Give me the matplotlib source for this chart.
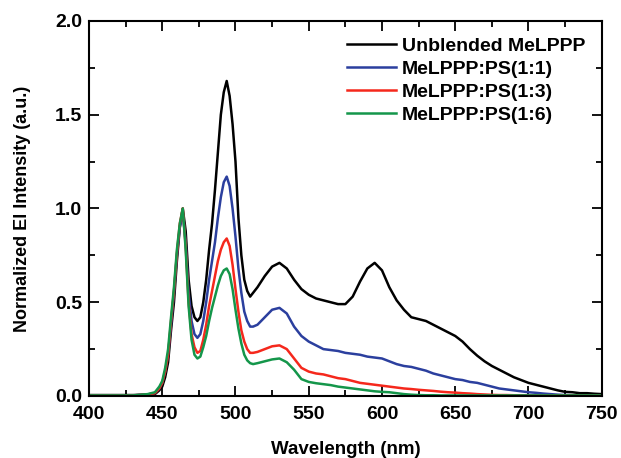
import matplotlib
matplotlib.use('agg')
import matplotlib.pyplot as plt
from matplotlib.ticker import MultipleLocator

plt.rcParams['font.family'] = ['Liberation Sans', 'DejaVu Sans']
plt.rcParams['font.weight'] = 'bold'

# wavelength grid (nm)
wl = [400, 410, 420, 430, 440, 445, 448, 450, 452, 454, 456, 458, 460, 462,
      464, 466, 468, 470, 472, 474, 476, 478, 480, 482, 484, 486, 488, 490,
      492, 494, 496, 498, 500, 502, 504, 506, 508, 510, 512, 515, 520, 525,
      530, 535, 540, 545, 550, 555, 560, 565, 570, 575, 580, 585, 590, 595,
      600, 605, 610, 615, 620, 625, 630, 635, 640, 645, 650, 655, 660, 665,
      670, 675, 680, 685, 690, 695, 700, 705, 710, 715, 720, 725, 730, 735,
      740, 745, 750]

unblended = [0.005, 0.005, 0.005, 0.005, 0.008, 0.01, 0.03, 0.05, 0.1, 0.18, 0.35, 0.5, 0.72, 0.9,
             1.0, 0.88, 0.62, 0.48, 0.42, 0.40, 0.42, 0.5, 0.62, 0.78, 0.92, 1.1, 1.3, 1.5,
             1.62, 1.68, 1.6, 1.45, 1.25, 0.95, 0.75, 0.62, 0.56, 0.53, 0.55, 0.58, 0.64, 0.69,
             0.71, 0.68, 0.62, 0.57, 0.54, 0.52, 0.51, 0.5, 0.49, 0.49, 0.53, 0.61, 0.68, 0.71,
             0.67, 0.58, 0.51, 0.46, 0.42, 0.41, 0.4, 0.38, 0.36, 0.34, 0.32, 0.29, 0.25, 0.215,
             0.185, 0.16, 0.14, 0.12, 0.1, 0.085, 0.07, 0.06, 0.05, 0.04, 0.03, 0.022, 0.02, 0.015,
             0.015, 0.012, 0.01]

ps11 = [0.003, 0.003, 0.003, 0.003, 0.008, 0.015, 0.04, 0.07, 0.13, 0.22, 0.38, 0.55, 0.75, 0.9,
        0.98, 0.82, 0.55, 0.4, 0.33, 0.31, 0.33, 0.4, 0.5, 0.62, 0.72, 0.82, 0.95, 1.06,
        1.14, 1.17, 1.12, 1.0, 0.85, 0.68, 0.55, 0.45, 0.4, 0.37, 0.37, 0.38, 0.42, 0.46,
        0.47, 0.44, 0.37, 0.32, 0.29, 0.27, 0.25, 0.245, 0.24, 0.23, 0.225, 0.22, 0.21, 0.205,
        0.2, 0.185, 0.17, 0.16, 0.155, 0.145, 0.135, 0.12, 0.11, 0.1, 0.09, 0.085, 0.075, 0.07,
        0.06, 0.05, 0.04, 0.035, 0.03, 0.025, 0.02, 0.017, 0.013, 0.01, 0.007, 0.005, 0.004, 0.003,
        0.003, 0.003, 0.003]

ps13 = [0.003, 0.003, 0.003, 0.003, 0.008, 0.015, 0.04, 0.07, 0.13, 0.22, 0.4, 0.56, 0.76, 0.92,
        1.0, 0.8, 0.5, 0.33, 0.26, 0.23, 0.24, 0.3, 0.38, 0.48, 0.56, 0.64, 0.72, 0.78,
        0.82, 0.84, 0.8, 0.7, 0.57, 0.45, 0.35, 0.29, 0.25, 0.23, 0.23, 0.235, 0.25, 0.265,
        0.27, 0.25, 0.2, 0.15, 0.13, 0.12, 0.115, 0.105, 0.095, 0.09, 0.08, 0.07, 0.065, 0.06,
        0.055, 0.05, 0.045, 0.04, 0.037, 0.033, 0.03, 0.027, 0.023, 0.02, 0.018, 0.015, 0.013, 0.01,
        0.008, 0.006, 0.005, 0.005, 0.004, 0.004, 0.003, 0.003, 0.003, 0.003, 0.003, 0.003, 0.003, 0.003,
        0.003, 0.003, 0.003]

ps16 = [0.003, 0.003, 0.003, 0.003, 0.01, 0.02, 0.05, 0.08, 0.15, 0.25, 0.42, 0.58, 0.78, 0.92,
        1.0, 0.78, 0.48, 0.3, 0.22, 0.2, 0.21, 0.26, 0.32, 0.4, 0.47, 0.53, 0.59, 0.64,
        0.67, 0.68, 0.65, 0.57, 0.46, 0.36, 0.28, 0.22, 0.19, 0.175, 0.17, 0.175, 0.185, 0.195,
        0.2, 0.18, 0.14, 0.09, 0.075, 0.068, 0.063, 0.058, 0.05, 0.045, 0.04, 0.035, 0.03, 0.025,
        0.022, 0.02, 0.015, 0.01, 0.007, 0.005, 0.004, 0.004, 0.003, 0.003, 0.003, 0.003, 0.003, 0.003,
        0.003, 0.003, 0.003, 0.003, 0.003, 0.003, 0.003, 0.003, 0.003, 0.003, 0.003, 0.003, 0.003, 0.003,
        0.003, 0.003, 0.003]

labels = ['Unblended MeLPPP', 'MeLPPP:PS(1:1)', 'MeLPPP:PS(1:3)', 'MeLPPP:PS(1:6)']
colors = ['#000000', '#2b3f9e', '#f5281c', '#14964a']

fig = plt.figure(figsize=(6.21, 4.58), dpi=100)
ax = fig.add_axes([0.1433, 0.1354, 0.8257, 0.8188])

for ys, lab, c in zip([unblended, ps11, ps13, ps16], labels, colors):
    ax.plot(wl, ys, color=c, lw=1.8, label=lab)

ax.set_xlim(400, 750)
ax.set_ylim(0, 2.0)
ax.xaxis.set_major_locator(MultipleLocator(50))
ax.xaxis.set_minor_locator(MultipleLocator(25))
ax.yaxis.set_major_locator(MultipleLocator(0.5))
ax.yaxis.set_minor_locator(MultipleLocator(0.25))
ax.tick_params(which='both', direction='in', top=True, right=True, width=1.3, labelsize=14)
ax.tick_params(which='major', length=7)
ax.tick_params(which='minor', length=4)
ax.tick_params(axis='x', pad=7)
ax.tick_params(axis='y', pad=5)
for s in ax.spines.values():
    s.set_linewidth(1.5)

ax.set_xlabel('Wavelength (nm)', fontsize=13.5, fontweight='bold', labelpad=13)
ax.set_ylabel('Normalized El Intensity (a.u.)', fontsize=13, fontweight='bold', labelpad=17)

ax.legend(loc='upper right', frameon=False, handlelength=2.5,
          handletextpad=0.3, labelspacing=0.28, borderaxespad=0.45,
          prop={'weight': 'bold', 'size': 14})

plt.savefig('out.png', dpi=100)
plt.close()
